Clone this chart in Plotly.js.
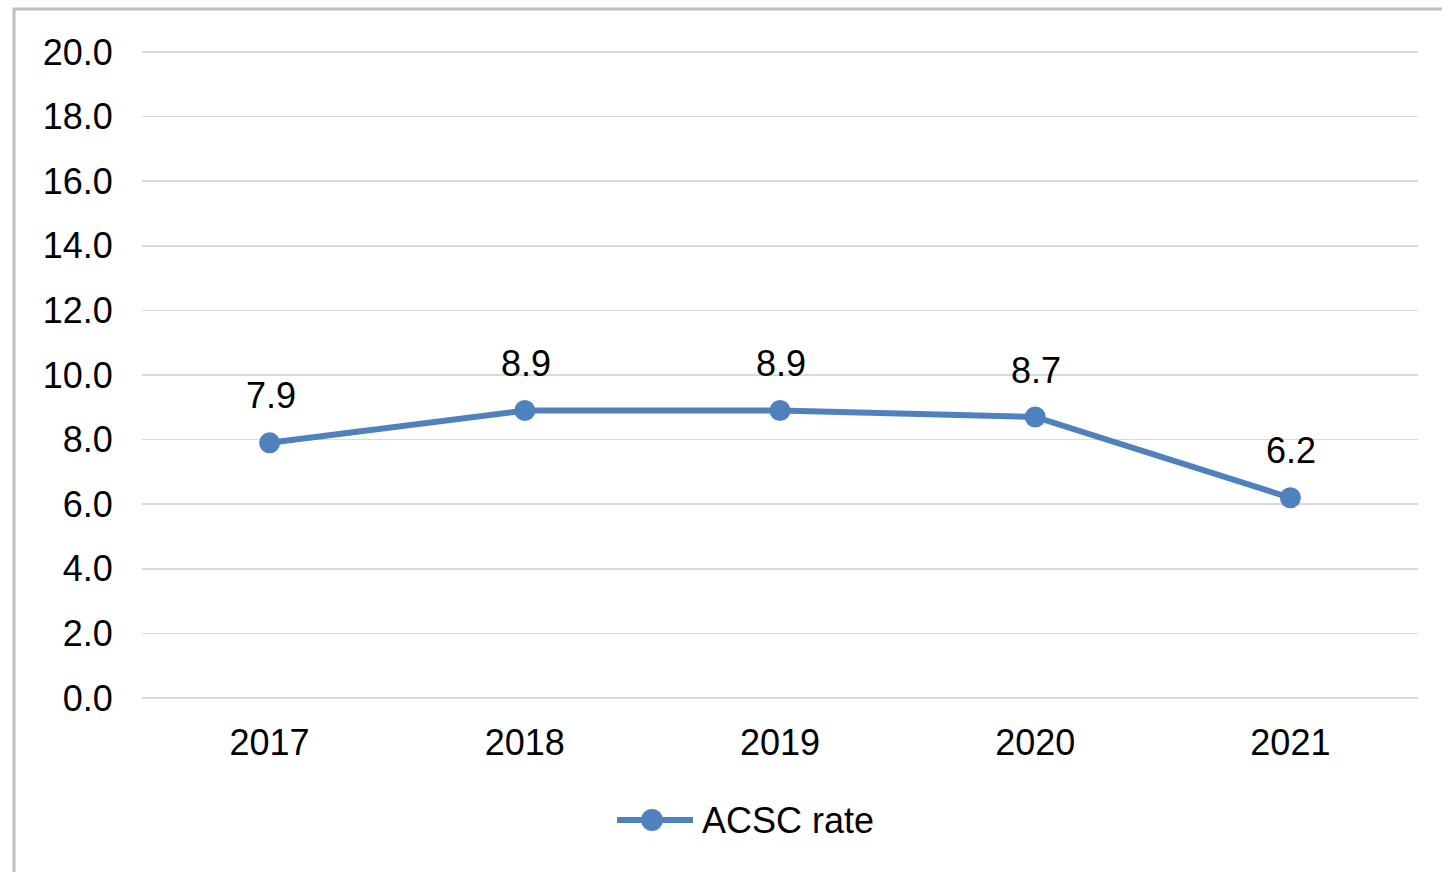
<!DOCTYPE html>
<html>
<head>
<meta charset="utf-8">
<script src="https://cdn.plot.ly/plotly-3.0.1.min.js"></script>
<style>html,body{margin:0;padding:0;background:#fff;}#chart{width:1442px;height:872px;}</style>
</head>
<body>
<div id="chart"></div>
<script>
const years = ['2017', '2018', '2019', '2020', '2021'];
const acscRate = [7.9, 8.9, 8.9, 8.7, 6.2];
const yTickVals = [0, 2, 4, 6, 8, 10, 12, 14, 16, 18, 20];
const seriesName = 'ACSC rate';

const FONT = 'Liberation Sans, Arial, sans-serif';
const BLUE = '#4F81BD';
const FS = 36;

const trace = {
  x: years,
  y: acscRate,
  type: 'scatter',
  mode: 'lines+markers',
  name: seriesName,
  line: {color: BLUE, width: 6},
  marker: {color: BLUE, size: 21},
  cliponaxis: false,
  showlegend: false,
  hoverinfo: 'x+y'
};

// data labels (category index on x, value on y)
const labelAnnots = years.map((yr, i) => ({
  x: i, y: acscRate[i], xref: 'x', yref: 'y',
  text: acscRate[i].toFixed(1), showarrow: false,
  yanchor: 'middle', xanchor: 'center', yshift: 47, xshift: 1,
  font: {family: FONT, size: FS, color: '#000'}
}));

// custom legend (px -> paper); plot area spans x 142..1418, y 50..700
const px2x = p => (p - 142) / 1276;
const px2y = p => (700 - p) / 650;
const legY = px2y(820);
const legendShapes = [
  {type: 'line', xref: 'paper', yref: 'paper', x0: px2x(617), x1: px2x(693), y0: legY, y1: legY,
   line: {color: BLUE, width: 6}},
  {type: 'circle', xref: 'paper', yref: 'paper', x0: px2x(641), x1: px2x(663), y0: px2y(831), y1: px2y(809),
   line: {color: BLUE, width: 0}, fillcolor: BLUE}
];
const legendAnnot = {
  x: px2x(700), y: legY, xref: 'paper', yref: 'paper', text: seriesName, showarrow: false,
  xanchor: 'left', yanchor: 'middle', font: {family: FONT, size: FS, color: '#000'}
};

const layout = {
  width: 1442, height: 872,
  margin: {l: 142, r: 24, t: 50, b: 172},
  paper_bgcolor: '#fff', plot_bgcolor: '#fff',
  font: {family: FONT, size: FS, color: '#000'},
  showlegend: false,
  xaxis: {type: 'category', range: [-0.5, 4.5], showgrid: false, zeroline: false, showline: false,
          ticks: 'outside', ticklen: 11, tickcolor: 'rgba(0,0,0,0)',
          tickfont: {family: FONT, size: FS, color: '#000'}},
  yaxis: {range: [-0.06, 20.06], tickvals: yTickVals, ticktext: yTickVals.map(v => v.toFixed(1)),
          showgrid: true, gridcolor: '#D9D9D9', gridwidth: 1.5, zeroline: false, showline: false,
          ticks: 'outside', ticklen: 21, tickcolor: 'rgba(0,0,0,0)',
          tickfont: {family: FONT, size: FS, color: '#000'}},
  annotations: labelAnnots.concat([legendAnnot]),
  shapes: [{type: 'rect', xref: 'paper', yref: 'paper', x0: px2x(14), x1: 1.03, y0: -0.3, y1: px2y(9),
            line: {color: '#BFBFBF', width: 3}, fillcolor: 'rgba(0,0,0,0)', layer: 'below'}].concat(legendShapes)
};

Plotly.newPlot('chart', [trace], layout, {displayModeBar: false, staticPlot: true});
</script>
</body>
</html>
